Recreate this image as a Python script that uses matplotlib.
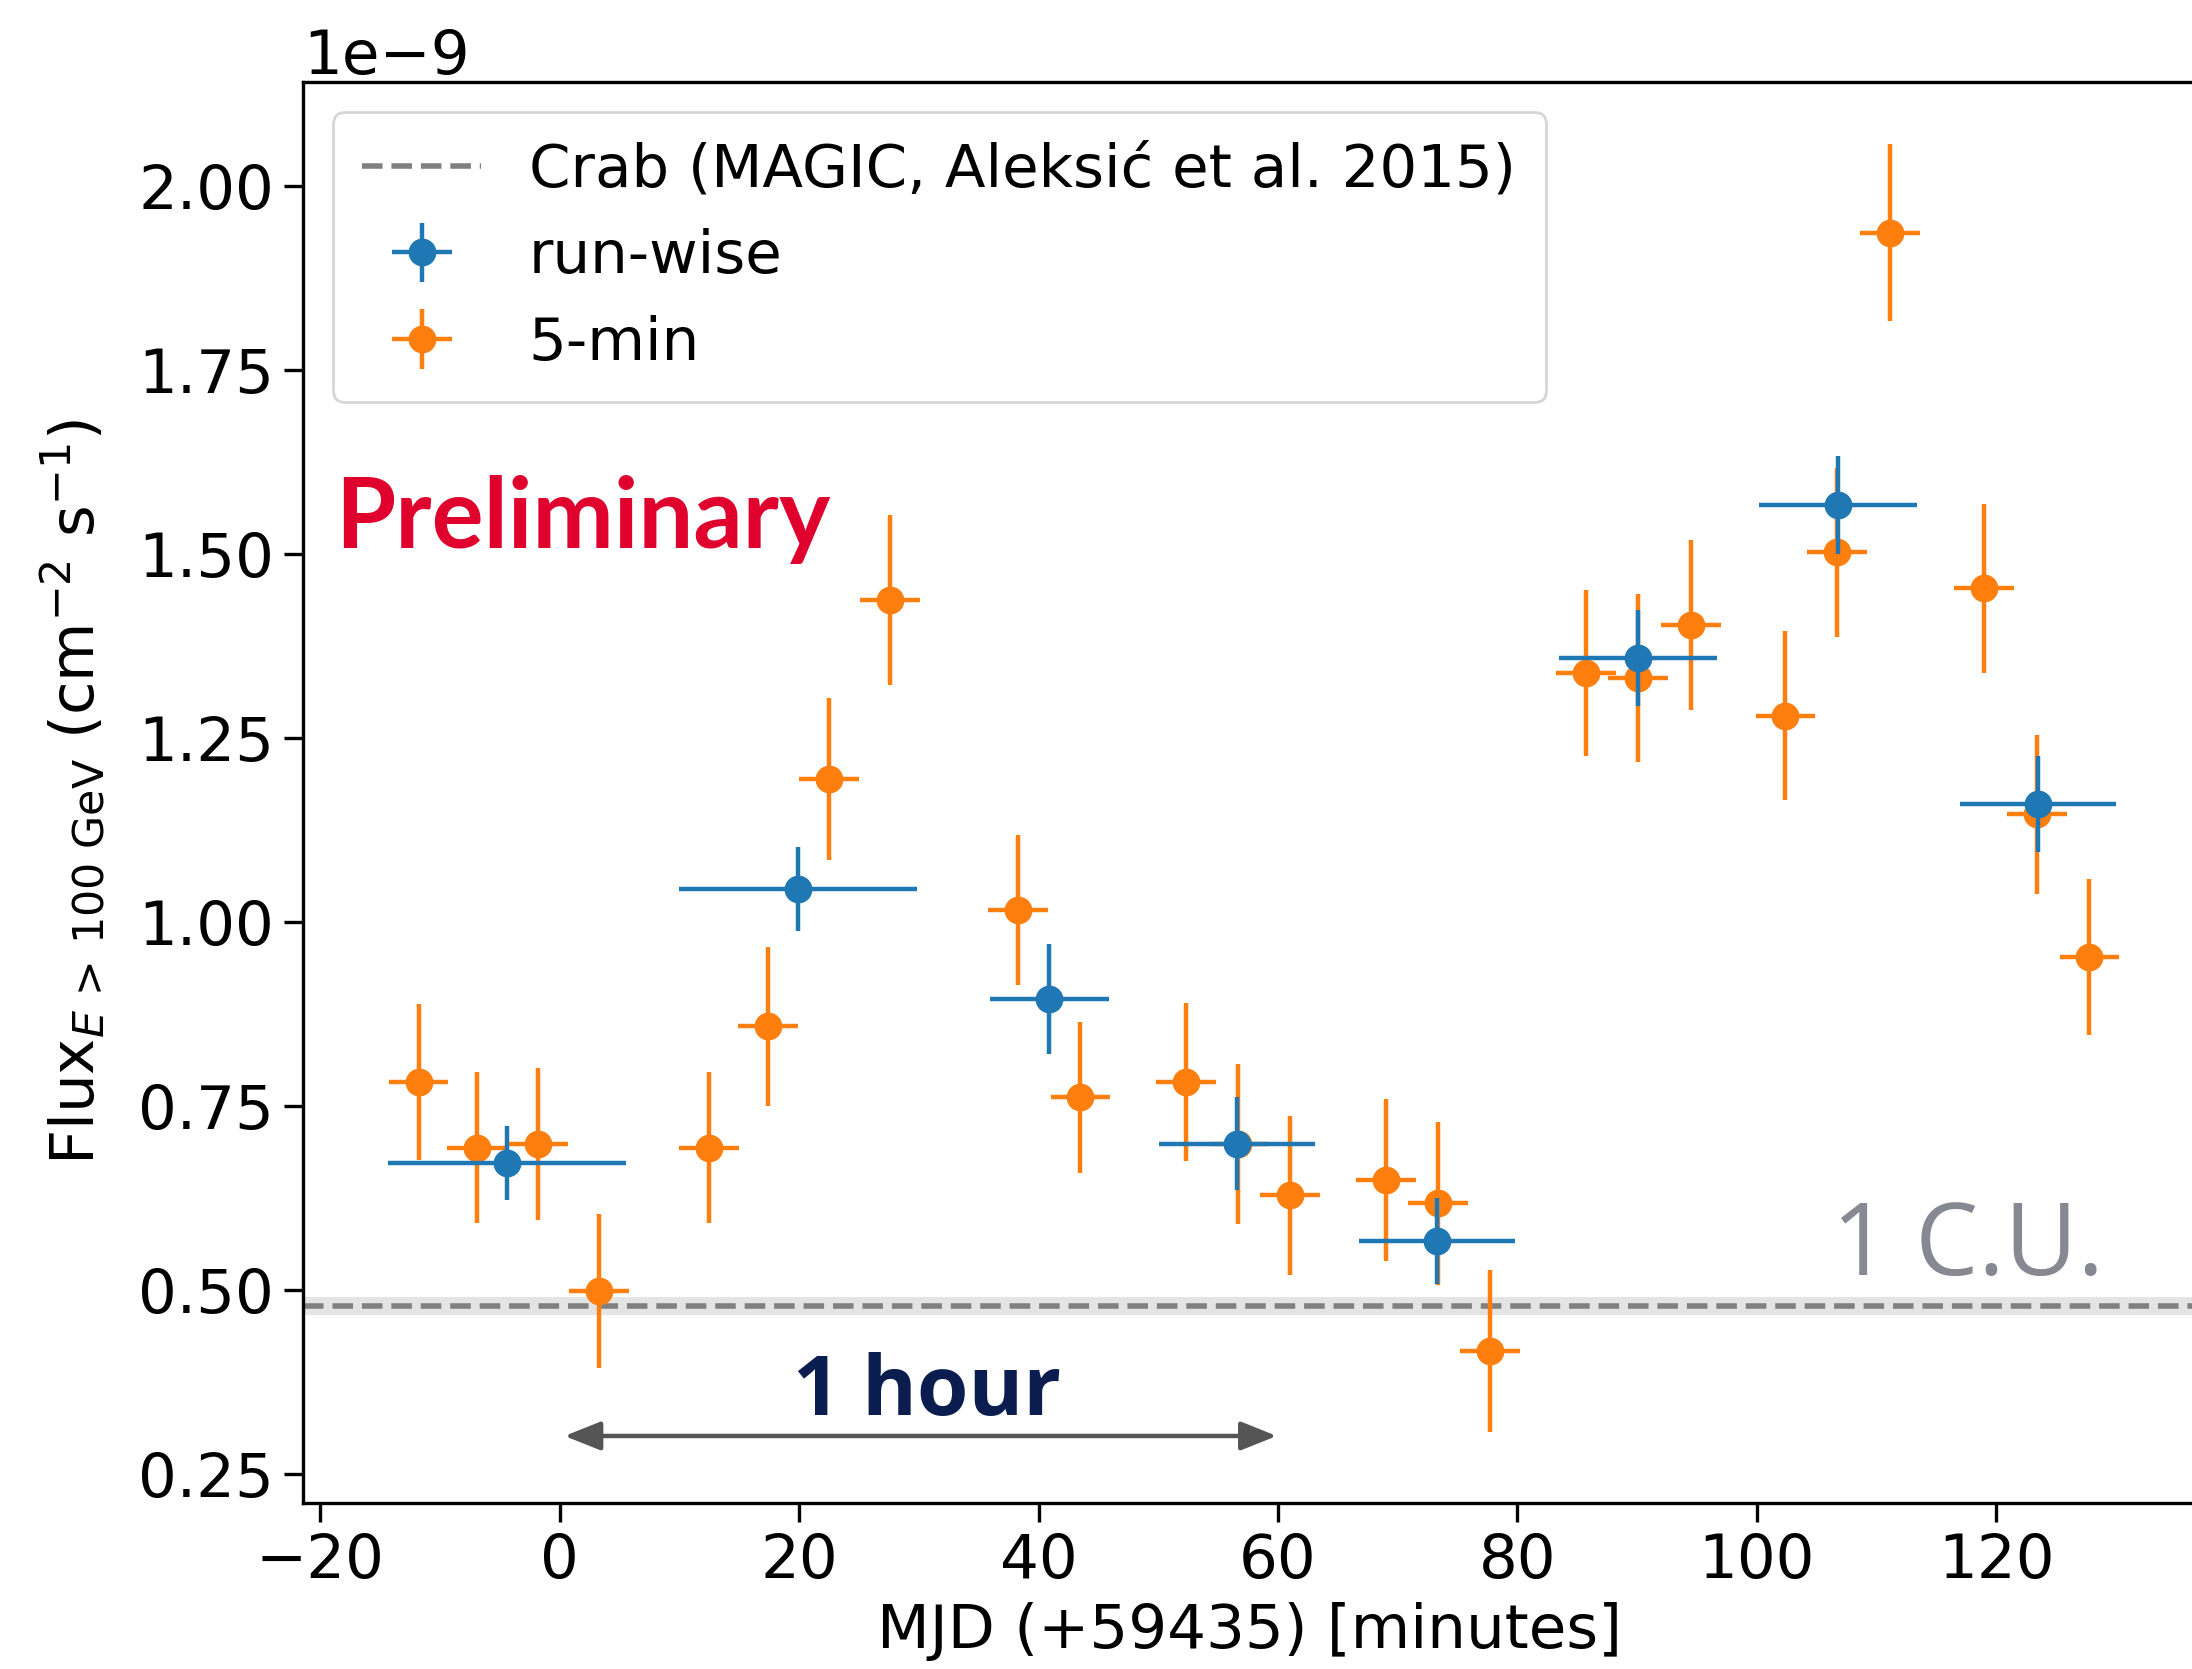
import matplotlib
matplotlib.use("Agg")
import matplotlib.pyplot as plt
import numpy as np

# light curve, flux in units of 1e-9 cm^-2 s^-1, time in minutes after MJD 59435
five_min_time = [-11.8, -6.9, -1.8, 3.3, 12.5, 17.4, 22.5, 27.6, 38.3, 43.5, 52.3, 56.7,
                 61.0, 69.0, 73.4, 77.7, 85.7, 90.1, 94.5, 102.4, 106.7, 111.1, 119.0,
                 123.4, 127.8]
five_min_flux = [0.783, 0.694, 0.699, 0.499, 0.694, 0.859, 1.195, 1.438, 1.017, 0.762,
                 0.783, 0.699, 0.629, 0.650, 0.618, 0.417, 1.339, 1.332, 1.404, 1.281,
                 1.503, 1.937, 1.454, 1.147, 0.953]
five_min_err = [0.106, 0.103, 0.103, 0.104, 0.103, 0.108, 0.110, 0.115, 0.102, 0.103,
                0.108, 0.109, 0.108, 0.110, 0.111, 0.110, 0.113, 0.114, 0.115, 0.115,
                0.115, 0.120, 0.115, 0.108, 0.106]
five_min_half = [2.5] * len(five_min_time)

run_time = [-4.4, 19.9, 40.9, 56.6, 73.3, 90.1, 106.8, 123.5]
run_half = [9.95, 9.95, 5.0, 6.5, 6.5, 6.6, 6.6, 6.5]
run_flux = [0.673, 1.045, 0.896, 0.699, 0.567, 1.359, 1.567, 1.161]
run_err = [0.050, 0.057, 0.075, 0.063, 0.058, 0.065, 0.067, 0.065]

crab_flux = 0.479
crab_band = (0.466, 0.491)

SCALE = 1e-9
FS = 22

fig = plt.figure(figsize=(10.96, 8.345), dpi=200)
# right edge sits just outside the canvas, like the cropped original
ax = fig.add_axes([0.1382, 0.0995, 1.002 - 0.1382, 0.9509 - 0.0995])

ax.axhspan(crab_band[0] * SCALE, crab_band[1] * SCALE, color="lightgray", alpha=0.6,
           lw=0, zorder=1)
crab_line = ax.axhline(crab_flux * SCALE, color="gray", ls="--", lw=2, zorder=2,
                       label="Crab (MAGIC, Aleksić et al. 2015)")

five = ax.errorbar(
    five_min_time,
    np.array(five_min_flux) * SCALE,
    xerr=five_min_half,
    yerr=np.array(five_min_err) * SCALE,
    fmt="o",
    color="tab:orange",
    markersize=9,
    elinewidth=1.6,
    zorder=3,
    label="5-min",
)
run = ax.errorbar(
    run_time,
    np.array(run_flux) * SCALE,
    xerr=run_half,
    yerr=np.array(run_err) * SCALE,
    fmt="o",
    color="tab:blue",
    markersize=9,
    elinewidth=1.6,
    zorder=4,
    label="run-wise",
)

ax.set_xlim(-21.46, 136.73)
ax.set_ylim(0.211 * SCALE, 2.142 * SCALE)
ax.set_xticks(np.arange(-20, 121, 20))
ax.set_yticks(np.arange(0.25, 2.01, 0.25) * SCALE)
ax.tick_params(labelsize=FS, length=7, width=1.2)
ax.yaxis.get_offset_text().set_fontsize(FS)
for spine in ax.spines.values():
    spine.set_linewidth(1.2)

ax.set_xlabel("MJD (+59435) [minutes]", fontsize=FS, labelpad=4)
ax.set_ylabel(r"Flux$_{E\,>\,100\ \mathrm{GeV}}$ (cm$^{-2}$ s$^{-1}$)", fontsize=FS,
              labelpad=11)

ax.legend(handles=[crab_line, run, five], loc="upper left", fontsize=21.4,
          borderpad=0.5)

ax.text(-18.75, 1.509 * SCALE, "Preliminary", color="#e0002d", fontsize=35,
        fontweight="bold", family="Lato", ha="left", va="baseline")
ax.text(129.0, 0.521 * SCALE, "1 C.U.", color="#868892", fontsize=36,
        family="Open Sans", ha="right", va="baseline")
ax.text(30.7, 0.330 * SCALE, "1 hour", color="#0b1d4f", fontsize=30,
        fontweight="bold", family="Open Sans", ha="center", va="baseline")
ax.annotate("", xy=(59.9, 0.302 * SCALE), xytext=(0.4, 0.302 * SCALE),
            arrowprops=dict(arrowstyle="<|-|>,head_length=0.5,head_width=0.2",
                            color="#555555", lw=1.6, mutation_scale=22,
                            shrinkA=0, shrinkB=0))

fig.savefig("out.png", dpi=200)
